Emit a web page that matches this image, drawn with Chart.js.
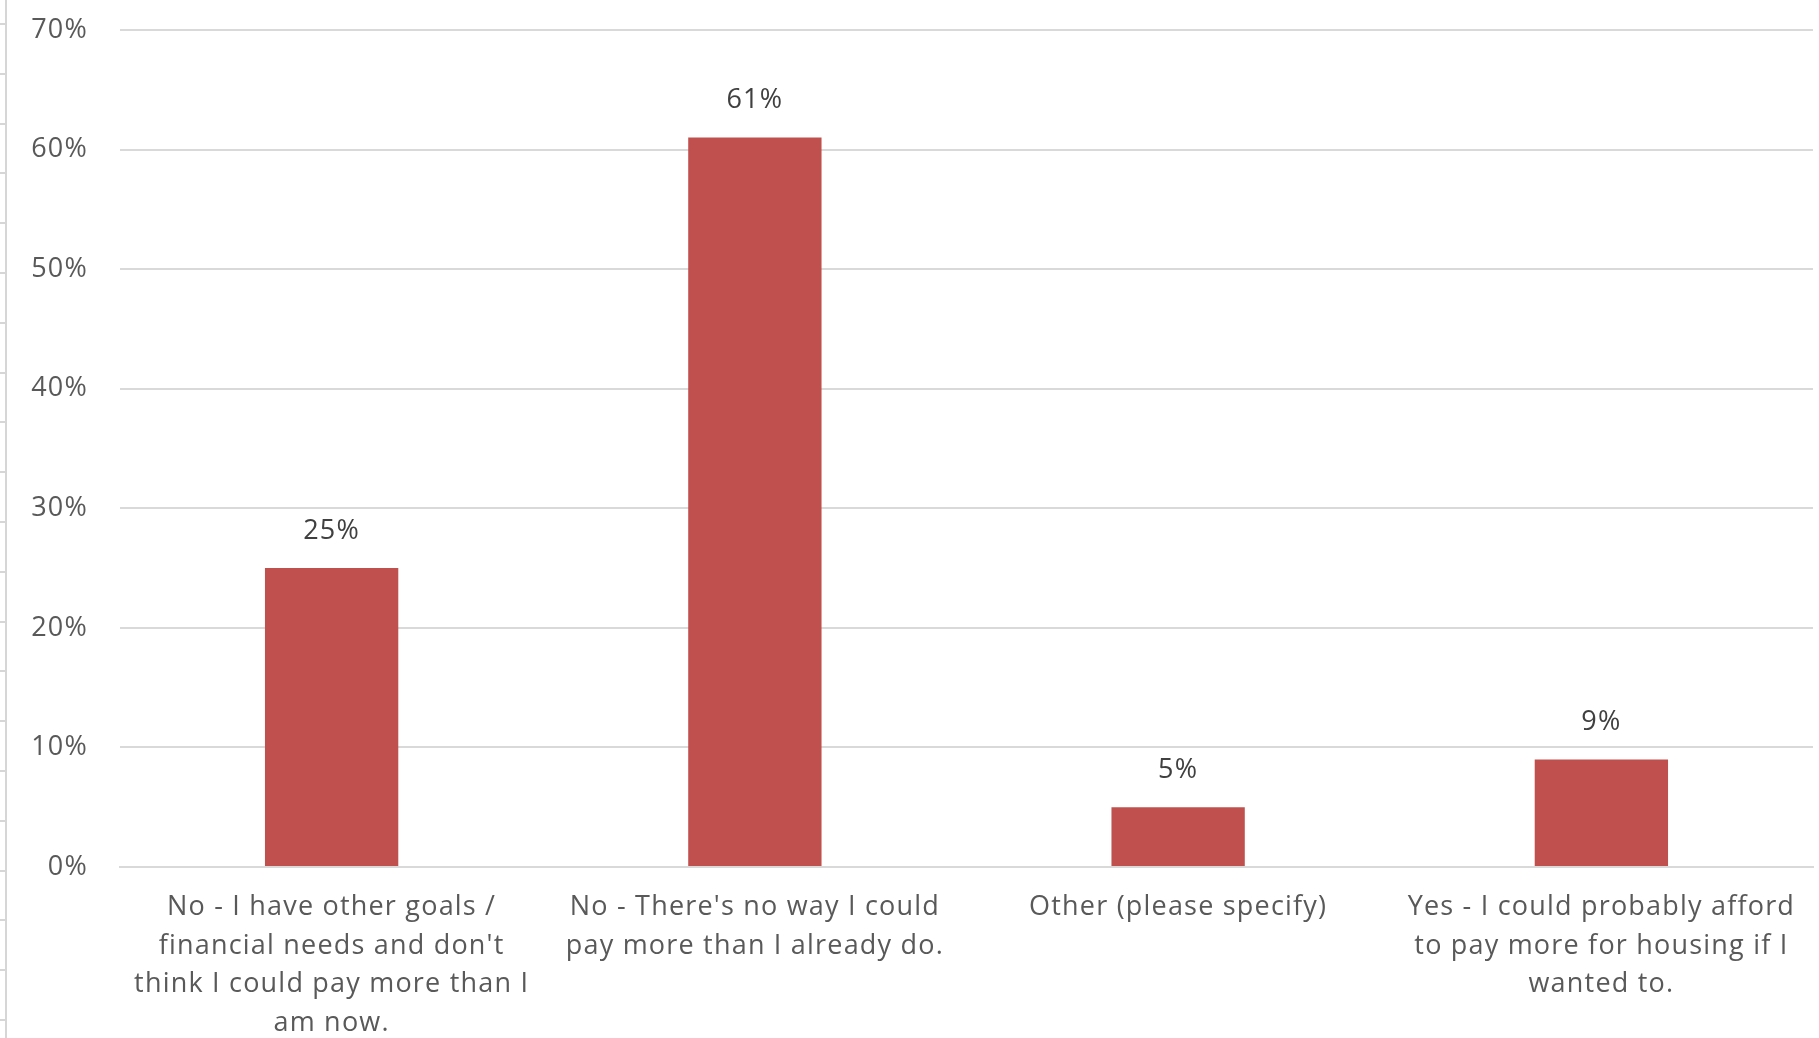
<!DOCTYPE html>
<html>
<head>
<meta charset="utf-8">
<script src="https://cdn.jsdelivr.net/npm/chart.js@4.4.1/dist/chart.umd.min.js"></script>
<style>
  html, body { margin: 0; padding: 0; background: #fff; }
  #wrap { position: relative; width: 1819px; height: 1038px; }
  /* thin sheet border on the left with small ticks */
  #edge {
    position: absolute; left: 0; top: 0; width: 7px; height: 1038px;
    border-right: 2px solid #d6d6d6; box-sizing: border-box;
    background: repeating-linear-gradient(to bottom, transparent 0 23px, #d6d6d6 23px 25px, transparent 25px 49.8px);
  }
</style>
</head>
<body>
<div id="wrap">
  <div id="edge"></div>
  <canvas id="chart1" width="1819" height="1038"></canvas>
</div>
<script>
// categories (each label split into its lines)
const categories = [
  ['No - I have other goals /', 'financial needs and don\'t', 'think I could pay more than I', 'am now.'],
  ['No - There\'s no way I could', 'pay more than I already do.'],
  ['Other (please specify)'],
  ['Yes - I could probably afford', 'to pay more for housing if I', 'wanted to.']
];
// share of answers, percent
const shares = [25, 61, 5, 9];
// y tick labels
const yTicks = [0, 10, 20, 30, 40, 50, 60, 70];

const FONT = "'Open Sans'";

// a little letter spacing, the original text is spaced out
const spacing = {
  id: 'spacing',
  beforeLayout(chart) { chart.ctx.letterSpacing = '1.2px'; }
};

// draw the value over each bar
const valueLabels = {
  id: 'valueLabels',
  afterDatasetsDraw(chart) {
    const ctx = chart.ctx;
    const meta = chart.getDatasetMeta(0);
    ctx.save();
    ctx.font = "27px " + FONT;
    ctx.fillStyle = '#404040';
    ctx.textAlign = 'center';
    ctx.textBaseline = 'middle';
    meta.data.forEach((bar, i) => {
      ctx.fillText(shares[i] + '%', bar.x, bar.y - 37);
    });
    ctx.restore();
  }
};

const ctx = document.getElementById('chart1').getContext('2d');
new Chart(ctx, {
  type: 'bar',
  data: {
    labels: categories,
    datasets: [{
      data: shares,
      backgroundColor: '#C0504D',
      borderWidth: 0,
      categoryPercentage: 1,
      barPercentage: 0.315
    }]
  },
  options: {
    responsive: false,
    animation: false,
    layout: { padding: { top: 30, right: 6, left: 0, bottom: 0 } },
    plugins: {
      legend: { display: false },
      tooltip: { enabled: false }
    },
    scales: {
      x: {
        grid: { display: false, drawTicks: false },
        border: { color: '#d9d9d9', width: 2 },
        ticks: {
          color: '#595959',
          font: { family: FONT, size: 27, lineHeight: 1.43 },
          maxRotation: 0,
          autoSkip: false,
          padding: 21
        },
        afterFit(scale) {
          scale.height = 171;
          scale.paddingTop = 0;
          scale.paddingBottom = 0;
        }
      },
      y: {
        min: 0,
        max: 70,
        afterBuildTicks(scale) { scale.ticks = yTicks.map(v => ({ value: v })); },
        grid: { color: '#d9d9d9', lineWidth: 2, drawTicks: false },
        border: { display: false },
        ticks: {
          color: '#595959',
          font: { family: FONT, size: 27 },
          padding: 32,
          callback: v => v + '%'
        },
        afterFit(scale) {
          scale.width = 120;
          scale.paddingTop = 0;
          scale.paddingBottom = 0;
        }
      }
    }
  },
  plugins: [spacing, valueLabels]
});
</script>
</body>
</html>
